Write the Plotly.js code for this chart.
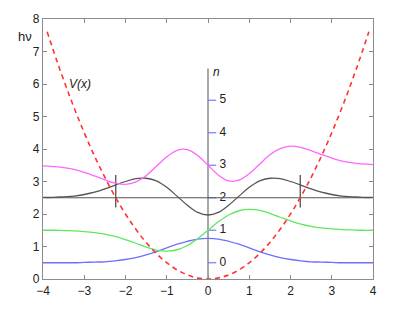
<!DOCTYPE html>
<html>
<head>
<meta charset="utf-8">
<script src="https://cdn.plot.ly/plotly-3.0.1.min.js"></script>
<style>html,body{margin:0;padding:0;background:#fff;}#chart{width:400px;height:324px;}</style>
</head>
<body>
<div id="chart"></div>
<script>
// sample positions (x) for the wave curves
const xs = [-4,-3.75,-3.5,-3.25,-3,-2.75,-2.5,-2.25,-2,-1.75,-1.5,-1.25,-1,-0.75,-0.5,-0.25,0,0.25,0.5,0.75,1,1.25,1.5,1.75,2,2.25,2.5,2.75,3,3.25,3.5,3.75,4];
// n = 0 (blue), offset 0.5
const psi0 = [0.50,0.50,0.50,0.50,0.51,0.52,0.53,0.56,0.60,0.66,0.74,0.84,0.96,1.07,1.16,1.23,1.25,1.23,1.16,1.07,0.96,0.84,0.74,0.66,0.60,0.56,0.53,0.52,0.51,0.50,0.50,0.50,0.50];
// n = 1 (green), offset 1.5
const psi1 = [1.50,1.50,1.49,1.48,1.46,1.43,1.38,1.31,1.21,1.10,0.98,0.89,0.86,0.90,1.03,1.24,1.50,1.76,1.97,2.10,2.14,2.11,2.02,1.90,1.79,1.69,1.62,1.57,1.54,1.52,1.51,1.50,1.50];
// n = 2 (dark grey), offset 2.5
const psi2 = [2.51,2.51,2.53,2.55,2.60,2.67,2.77,2.89,3.00,3.09,3.10,3.02,2.82,2.55,2.27,2.05,1.97,2.05,2.27,2.55,2.82,3.02,3.10,3.09,3.00,2.89,2.77,2.67,2.60,2.55,2.53,2.51,2.51];
// n = 3 (magenta), offset 3.5
const psi3 = [3.48,3.46,3.43,3.37,3.28,3.17,3.05,2.95,2.91,2.99,3.18,3.47,3.76,3.96,3.98,3.80,3.50,3.20,3.02,3.04,3.24,3.53,3.82,4.01,4.09,4.05,3.95,3.83,3.72,3.63,3.57,3.54,3.52];
// potential V(x)
const vx = [-3.9,-3.6,-3.3,-3.0,-2.7,-2.4,-2.1,-1.8,-1.5,-1.2,-0.9,-0.6,-0.3,0,0.3,0.6,0.9,1.2,1.5,1.8,2.1,2.4,2.7,3.0,3.3,3.6,3.9];
const vy = [7.605,6.48,5.445,4.5,3.645,2.88,2.205,1.62,1.125,0.72,0.405,0.18,0.045,0,0.045,0.18,0.405,0.72,1.125,1.62,2.205,2.88,3.645,4.5,5.445,6.48,7.605];
// level E = 2.5 line and classical turning points
const levelX = [-4, 4];
const levelY = [2.5, 2.5];
const turnX = [-2.236, 2.236];
const turnY = [2.2, 3.2];
// n axis
const nAxisX = [0, 0];
const nAxisY = [0, 6.48];
const nLevels = [0.5, 1.5, 2.5, 3.5, 4.5, 5.5];
const nLabels = ['0','1','2','3','4','5'];
const nTickLen = 0.2;
const nLabelX = 0.36;

// build n-axis tick segments
const tkX = [], tkY = [];
nLevels.forEach(v => { tkX.push(0, nTickLen, null); tkY.push(v, v, null); });

const FONT = 'Liberation Sans, Arial, sans-serif';

const traces = [
  {x: nAxisX, y: nAxisY, mode: 'lines', line: {color: '#a8a8a8', width: 2}, hoverinfo: 'skip'},
  {x: tkX, y: tkY, mode: 'lines', line: {color: '#7777ff', width: 1.2}, hoverinfo: 'skip'},
  {x: nLevels.map(() => nLabelX), y: nLevels, text: nLabels, mode: 'text', textposition: 'middle center',
   textfont: {family: FONT, size: 12, color: '#222'}, hoverinfo: 'skip'},
  {x: levelX, y: levelY, mode: 'lines', line: {color: '#555', width: 1.2}},
  {x: [turnX[0], turnX[0]], y: turnY, mode: 'lines', line: {color: '#444', width: 1.2}},
  {x: [turnX[1], turnX[1]], y: turnY, mode: 'lines', line: {color: '#444', width: 1.2}},
  {x: xs, y: psi0, mode: 'lines', line: {color: '#6f6fff', width: 1.3, shape: 'spline'}},
  {x: xs, y: psi1, mode: 'lines', line: {color: '#5ee85e', width: 1.3, shape: 'spline'}},
  {x: xs, y: psi2, mode: 'lines', line: {color: '#555555', width: 1.3, shape: 'spline'}},
  {x: xs, y: psi3, mode: 'lines', line: {color: '#ff66ff', width: 1.3, shape: 'spline'}},
  {x: vx, y: vy, mode: 'lines', line: {color: '#ff3333', width: 1.6, dash: '5px,4px', shape: 'spline'}}
];

const axisCommon = {
  showgrid: false, zeroline: false, showline: true, mirror: 'ticks',
  linecolor: '#8c8c8c', linewidth: 1.2, ticks: 'inside', ticklen: 4, tickcolor: '#8c8c8c',
  tickfont: {family: FONT, size: 12, color: '#222'}
};

const layout = {
  width: 400, height: 324,
  margin: {l: 43, r: 27, t: 19, b: 45},
  paper_bgcolor: '#fff', plot_bgcolor: '#fff',
  showlegend: false,
  xaxis: Object.assign({}, axisCommon, {range: [-4, 4], tickvals: [-4,-3,-2,-1,0,1,2,3,4], ticktext: ['−4','−3','−2','−1','0','1','2','3','4']}),
  yaxis: Object.assign({}, axisCommon, {range: [0, 8], tickvals: [0,1,2,3,4,5,6,7,8]}),
  annotations: [
    {x: -3.1, y: 6.0, xref: 'x', yref: 'y', text: '<i>V(x)</i>', showarrow: false,
     xanchor: 'center', yanchor: 'middle', font: {family: FONT, size: 12, color: '#222'}},
    {x: 0.2, y: 6.38, xref: 'x', yref: 'y', text: '<i>n</i>', showarrow: false,
     xanchor: 'center', yanchor: 'middle', font: {family: FONT, size: 12, color: '#222'}},
    {x: (25 - 43) / 330, y: (279 - 37) / 260, xref: 'paper', yref: 'paper', text: 'hν', showarrow: false,
     xanchor: 'center', yanchor: 'middle', font: {family: FONT, size: 13, color: '#222'}}
  ]
};

Plotly.newPlot('chart', traces, layout, {displayModeBar: false, staticPlot: true});
</script>
</body>
</html>
